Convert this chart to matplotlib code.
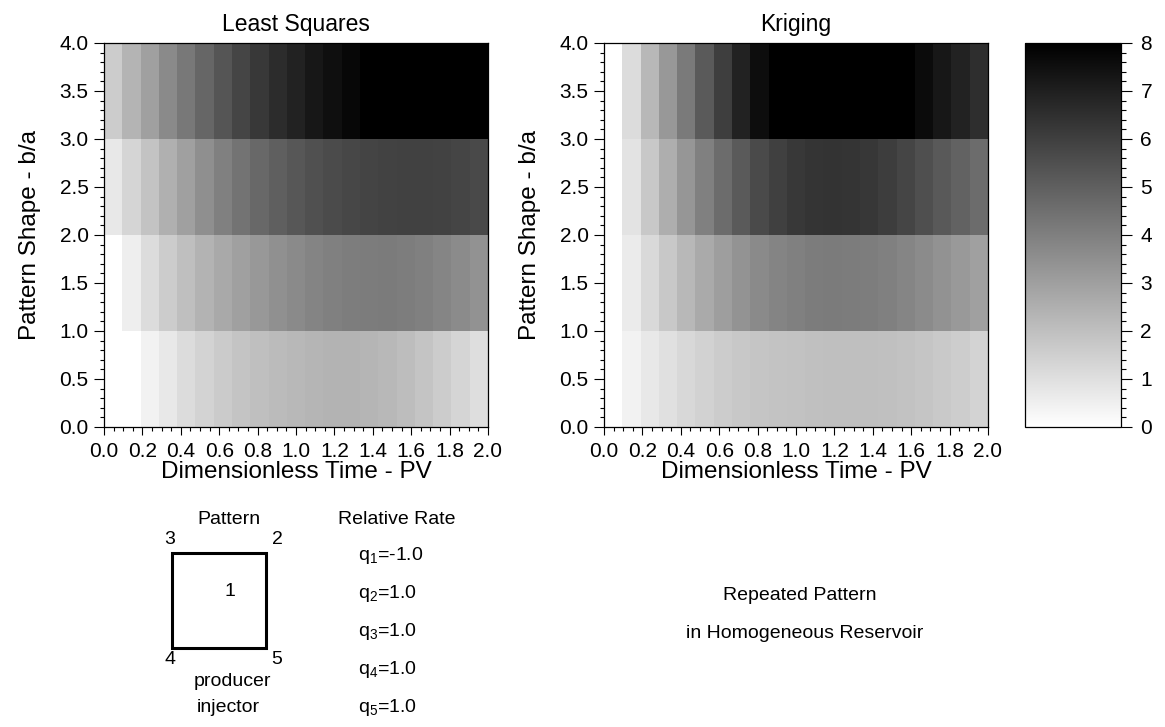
import numpy as np
import matplotlib
matplotlib.use( 'Agg' )
import matplotlib.pyplot as plt
from matplotlib.patches import Rectangle
from matplotlib.ticker import MultipleLocator, FormatStrFormatter

plt.rcParams['font.family'] = ['Liberation Sans', 'DejaVu Sans']

# grid: 21 time columns over 0..2 PV, 4 shape bands over 0..4
t_edges = np.linspace( 0, 2.0, 22 )
ba_edges = [0, 1, 2, 3, 4]

# Least Squares, rows from b/a 0-1 up to 3-4
ls_0 = [0, 0, 0.41, 0.72, 1.10, 1.38, 1.63, 1.85, 2.01, 2.13, 2.23,
	2.32, 2.38, 2.38, 2.32, 2.23, 2.07, 1.85, 1.60, 1.32, 1.04]
ls_1 = [0, 0.56, 1.10, 1.60, 2.01, 2.38, 2.70, 2.98, 3.23, 3.48, 3.67,
	3.86, 3.98, 4.08, 4.11, 4.14, 4.08, 3.98, 3.83, 3.64, 3.42]
ls_2 = [0.72, 1.32, 1.88, 2.48, 2.98, 3.51, 3.98, 4.39, 4.74, 5.02, 5.27,
	5.49, 5.65, 5.77, 5.87, 5.93, 5.96, 5.96, 5.93, 5.84, 5.71]
ls_3 = [1.60, 2.35, 2.98, 3.67, 4.24, 4.80, 5.33, 5.84, 6.24, 6.62, 6.93,
	7.25, 7.50, 7.75, 8.0, 8.0, 8.0, 8.0, 8.0, 8.0, 8.0]

# Kriging
kr_0 = [0, 0.41, 0.72, 0.97, 1.22, 1.41, 1.60, 1.73, 1.82, 1.88, 1.91,
	1.98, 2.01, 2.01, 2.01, 1.98, 1.91, 1.82, 1.69, 1.57, 1.38]
kr_1 = [0, 0.63, 1.19, 1.73, 2.23, 2.67, 3.04, 3.39, 3.67, 3.86, 3.98,
	4.11, 4.14, 4.11, 4.08, 3.98, 3.83, 3.64, 3.42, 3.20, 2.98]
kr_2 = [0, 0.88, 1.73, 2.54, 3.29, 3.98, 4.61, 5.18, 5.68, 5.99, 6.24,
	6.37, 6.40, 6.37, 6.27, 6.09, 5.84, 5.52, 5.21, 4.93, 4.61]
kr_3 = [0, 1.10, 2.23, 3.23, 4.17, 5.18, 6.05, 6.93, 7.59, 8.0, 8.0,
	8.0, 8.0, 8.0, 8.0, 8.0, 8.0, 7.65, 7.28, 6.93, 6.56]

rate_labels = ['q$_\\mathregular{1}$=-1.0', 'q$_\\mathregular{2}$=1.0', 'q$_\\mathregular{3}$=1.0',
	'q$_\\mathregular{4}$=1.0', 'q$_\\mathregular{5}$=1.0']

W, H = 1165, 727

def px_axes( fig, x0, y0, w, h ):
	return fig.add_axes( [x0 / W, 1 - ( y0 + h ) / H, w / W, h / H] )

def style_axes( ax ):
	ax.xaxis.set_major_locator( MultipleLocator( 0.2 ) )
	ax.xaxis.set_minor_locator( MultipleLocator( 0.05 ) )
	ax.yaxis.set_major_locator( MultipleLocator( 0.5 ) )
	ax.yaxis.set_minor_locator( MultipleLocator( 0.1 ) )
	ax.xaxis.set_major_formatter( FormatStrFormatter( '%.1f' ) )
	ax.yaxis.set_major_formatter( FormatStrFormatter( '%.1f' ) )
	ax.tick_params( which = 'major', direction = 'out', width = 0.8, labelsize = 15 )
	ax.tick_params( axis = 'y', which = 'major', length = 7, pad = 4 )
	ax.tick_params( axis = 'x', which = 'major', length = 6, pad = 5 )
	ax.tick_params( which = 'minor', direction = 'out', length = 2.8, width = 0.8 )
	ax.set_xlim( 0, 2.0 )
	ax.set_ylim( 0, 4.0 )
	ax.set_xlabel( 'Dimensionless Time - PV', fontsize = 17.5, labelpad = 0 )
	ax.set_ylabel( 'Pattern Shape - b/a', fontsize = 17.5, labelpad = 13 )
	for s in ax.spines.values( ):
		s.set_linewidth( 0.9 )

def main( ):
	fig = plt.figure( figsize = ( W / 100, H / 100 ), dpi = 100 )

	ax1 = px_axes( fig, 104, 43, 384, 384 )
	m = ax1.pcolormesh( t_edges, ba_edges, np.array( [ls_0, ls_1, ls_2, ls_3] ),
		cmap = 'gray_r', vmin = 0, vmax = 8 )
	style_axes( ax1 )
	ax1.set_title( 'Least Squares', fontsize = 16.5, pad = 9 )

	ax2 = px_axes( fig, 604, 43, 384, 384 )
	ax2.pcolormesh( t_edges, ba_edges, np.array( [kr_0, kr_1, kr_2, kr_3] ),
		cmap = 'gray_r', vmin = 0, vmax = 8 )
	style_axes( ax2 )
	ax2.set_title( 'Kriging', fontsize = 16.5, pad = 9 )

	cax = px_axes( fig, 1025, 43, 96, 384 )
	cb = fig.colorbar( m, cax = cax )
	cb.set_ticks( range( 0, 9 ) )
	cax.yaxis.set_minor_locator( MultipleLocator( 0.2 ) )
	cax.tick_params( which = 'major', direction = 'out', length = 8, width = 0.8, labelsize = 15, pad = 6 )
	cax.tick_params( which = 'minor', direction = 'out', length = 3.5, width = 0.8 )
	cb.outline.set_linewidth( 0.9 )

	# annotation layer in pixel coordinates
	an = fig.add_axes( [0, 0, 1, 1] )
	an.set_xlim( 0, W )
	an.set_ylim( H, 0 )
	an.axis( 'off' )
	fs = 14
	an.text( 229, 519, 'Pattern', fontsize = fs, ha = 'center', va = 'center' )
	an.text( 397, 519, 'Relative Rate', fontsize = fs, ha = 'center', va = 'center' )
	an.add_patch( Rectangle( ( 172, 553 ), 94, 95, fill = False, lw = 2.2, ec = 'black' ) )
	an.text( 170, 540, '3', fontsize = fs, ha = 'center', va = 'center' )
	an.text( 277, 540, '2', fontsize = fs, ha = 'center', va = 'center' )
	an.text( 230, 591, '1', fontsize = fs, ha = 'center', va = 'center' )
	an.text( 170, 660, '4', fontsize = fs, ha = 'center', va = 'center' )
	an.text( 277, 660, '5', fontsize = fs, ha = 'center', va = 'center' )
	an.text( 232, 682, 'producer', fontsize = fs, ha = 'center', va = 'center' )
	an.text( 228, 708, 'injector', fontsize = fs, ha = 'center', va = 'center' )
	for i, lab in enumerate( rate_labels ):
		an.text( 358, 555 + 38 * i, lab, fontsize = fs, ha = 'left', va = 'center' )
	an.text( 800, 595, 'Repeated Pattern', fontsize = fs, ha = 'center', va = 'center' )
	an.text( 805, 633, 'in Homogeneous Reservoir', fontsize = fs, ha = 'center', va = 'center' )

	fig.savefig( 'out.png', dpi = 100 )

main( )
